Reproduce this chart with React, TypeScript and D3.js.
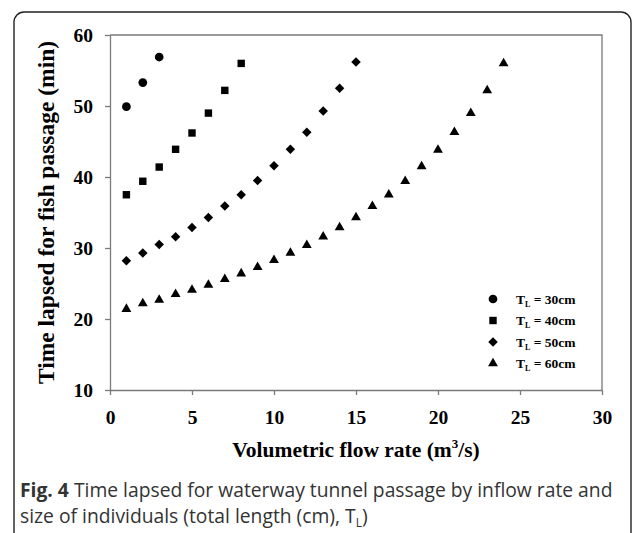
import React, { useEffect, useRef } from 'react';
import * as d3 from 'd3';

// series (flow rate m3/s -> minutes)
const tl30 = [49.9, 53.3, 56.9];
const tl40 = [37.5, 39.4, 41.4, 43.9, 46.2, 49.0, 52.2, 56.0];
const tl50 = [28.2, 29.3, 30.5, 31.6, 32.9, 34.3, 35.9, 37.5, 39.5, 41.6, 43.9, 46.3, 49.3, 52.5, 56.2];
const tl60 = [21.4, 22.2, 22.7, 23.5, 24.1, 24.8, 25.6, 26.4, 27.3, 28.3, 29.3, 30.4, 31.6, 32.9, 34.3, 35.9, 37.5, 39.4, 41.5, 43.8, 46.3, 49.0, 52.2, 56.0];
const seriesNames = ['30cm', '40cm', '50cm', '60cm'];
const xTicks = [0, 5, 10, 15, 20, 25, 30];
const yTicks = [10, 20, 30, 40, 50, 60];

const W = 633;
const H = 533;

export default function App() {
  const svgRef = useRef<SVGSVGElement | null>(null);

  useEffect(() => {
    if (!svgRef.current) return;
    const svg = d3.select(svgRef.current);
    svg.selectAll('*').remove();

    const margin = { top: 35, right: 31, bottom: 143, left: 110 };
    const x = d3.scaleLinear().domain([0, 30]).range([margin.left, W - margin.right]);
    const y = d3.scaleLinear().domain([10, 60]).range([H - margin.bottom, margin.top]);
    const serif = '"Liberation Serif", "Times New Roman", serif';
    const axisColor = '#7a7a7a';

    // outer rounded frame
    svg.append('rect')
      .attr('x', 14).attr('y', 12)
      .attr('width', 617).attr('height', 560)
      .attr('rx', 10)
      .attr('fill', 'none')
      .attr('stroke', '#222')
      .attr('stroke-width', 1.4);

    // box around plot (top/right lines, no ticks)
    svg.append('path')
      .attr('d', `M${x(0)},${y(60)}H${x(30)}V${y(10)}`)
      .attr('fill', 'none')
      .attr('stroke', axisColor)
      .attr('stroke-width', 1.3);

    const xAxis = svg.append('g')
      .attr('transform', `translate(0,${y(10)})`)
      .call(d3.axisBottom(x).tickValues(xTicks).tickSize(5).tickPadding(10).tickSizeOuter(0));
    const yAxis = svg.append('g')
      .attr('transform', `translate(${x(0)},0)`)
      .call(d3.axisLeft(y).tickValues(yTicks).tickSize(5).tickPadding(10).tickSizeOuter(0));

    [xAxis, yAxis].forEach(g => {
      g.select('.domain').attr('stroke', axisColor).attr('stroke-width', 1.3);
      g.selectAll('.tick line').attr('stroke', axisColor).attr('stroke-width', 1.3);
      g.selectAll('.tick text')
        .attr('fill', '#000')
        .style('font-family', serif)
        .style('font-weight', 'bold')
        .style('font-size', '19.5px');
    });
    xAxis.selectAll('.tick text').attr('dy', '0.95em');
    yAxis.selectAll('.tick text').attr('dx', '-2');

    const markers: { data: number[]; shape: d3.SymbolType; size: number; rotate: number }[] = [
      { data: tl30, shape: d3.symbolCircle, size: 60, rotate: 0 },
      { data: tl40, shape: d3.symbolSquare, size: 55, rotate: 0 },
      { data: tl50, shape: d3.symbolSquare, size: 45, rotate: 45 },
      { data: tl60, shape: d3.symbolTriangle, size: 42, rotate: 0 },
    ];

    const pts = svg.append('g');
    markers.forEach(m => {
      const path = d3.symbol().type(m.shape).size(m.size)();
      pts.append('g')
        .selectAll('path')
        .data(m.data)
        .join('path')
        .attr('d', path)
        .attr('fill', '#000')
        .attr('transform', (d, i) => `translate(${x(i + 1)},${y(d)}) rotate(${m.rotate})`);
    });

    // legend
    const lg = svg.append('g');
    seriesNames.forEach((name, i) => {
      const ly = 299 + i * 21.5;
      const m = markers[i];
      lg.append('path')
        .attr('d', d3.symbol().type(m.shape).size(m.size)())
        .attr('transform', `translate(493,${ly}) rotate(${m.rotate})`)
        .attr('fill', '#000');
      const t = lg.append('text')
        .attr('x', 516).attr('y', ly + 4.5)
        .style('font-family', serif)
        .style('font-weight', 'bold')
        .style('font-size', '13.5px');
      t.append('tspan').text('T');
      t.append('tspan').attr('dy', 3).style('font-size', '8px').text('L');
      t.append('tspan').attr('dy', -3).text(` = ${name}`);
    });

    // axis titles
    svg.append('text')
      .attr('transform', `translate(54,${(y(10) + y(60)) / 2}) rotate(-90)`)
      .attr('text-anchor', 'middle')
      .style('font-family', serif)
      .style('font-weight', 'bold')
      .style('font-size', '23.5px')
      .text('Time lapsed for fish passage (min)');

    const xt = svg.append('text')
      .attr('x', (x(0) + x(30)) / 2).attr('y', 457)
      .attr('text-anchor', 'middle')
      .style('font-family', serif)
      .style('font-weight', 'bold')
      .style('font-size', '21.5px');
    xt.append('tspan').text('Volumetric flow rate (m');
    xt.append('tspan').attr('dy', -9).style('font-size', '13px').text('3');
    xt.append('tspan').attr('dy', 9).text('/s)');

    // caption
    const sans = '"Open Sans", "Noto Sans", sans-serif';
    const c1 = svg.append('text')
      .attr('x', 20).attr('y', 497)
      .attr('fill', '#333')
      .style('font-family', sans)
      .style('font-size', '19.3px');
    c1.append('tspan').style('font-weight', 'bold').text('Fig. 4');
    c1.append('tspan').text(' Time lapsed for waterway tunnel passage by inflow rate and');
    const c2 = svg.append('text')
      .attr('x', 20).attr('y', 523)
      .attr('fill', '#333')
      .style('font-family', sans)
      .style('font-size', '19.3px');
    c2.append('tspan').text('size of individuals (total length (cm), T');
    c2.append('tspan').attr('dy', 4).style('font-size', '12px').text('L');
    c2.append('tspan').attr('dy', -4).text(')');
  }, []);

  return (
    <svg
      ref={svgRef}
      width={W}
      height={H}
      style={{ position: 'absolute', left: 0, top: 0, background: '#fff' }}
    />
  );
}
